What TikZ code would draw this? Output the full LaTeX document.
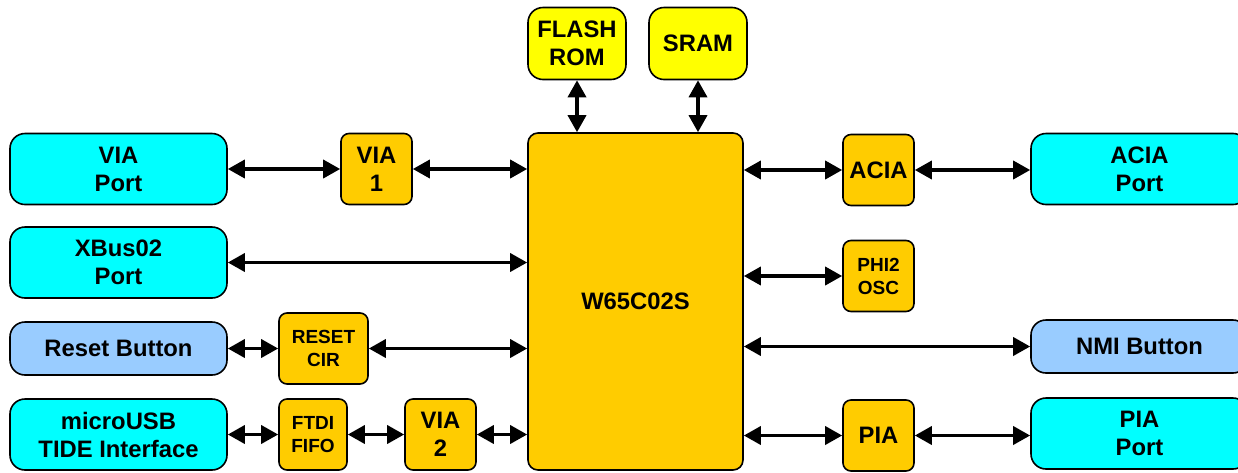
\documentclass[tikz,border=0pt]{standalone}
\usepackage{fontspec}
\setmainfont{Liberation Sans}
\usetikzlibrary{arrows.meta}
\definecolor{portcyan}{HTML}{00FFFF}
\definecolor{btnblue}{HTML}{99CCFF}
\definecolor{chiporange}{HTML}{FFCC00}
\definecolor{memyellow}{HTML}{FFFF00}
\begin{document}
\begin{tikzpicture}[
    x=1pt, y=-1pt,
    every node/.style={draw, line width=1.6pt, align=center, inner sep=0pt, font=\fontsize{23.8}{28}\selectfont\bfseries},
    port/.style={fill=portcyan, rounded corners=15pt, minimum width=217pt, minimum height=71pt},
    button/.style={fill=btnblue, rounded corners=15pt, minimum width=217pt, minimum height=53pt},
    chip/.style={fill=chiporange, rounded corners=8pt, minimum width=71pt, minimum height=71pt},
    small/.style={font=\fontsize{19}{23}\selectfont\bfseries},
    memory/.style={fill=memyellow, rounded corners=15pt, minimum width=98pt, minimum height=72pt},
    link/.style={line width=3.5pt, {Triangle[length=17pt,width=18pt]}-{Triangle[length=17pt,width=18pt]}}
    ]
    \useasboundingbox (0,0) rectangle (1238,472);
    % processor
    \node[chip, rounded corners=10pt, minimum width=215pt, minimum height=337pt] (cpu) at (635.5,301.5) {W65C02S};
    \node[memory] (flash) at (577,43.5) {FLASH\\ROM};
    \node[memory] (sram) at (698,43.5) {SRAM};
    % left side
    \node[port] (viaport) at (118.5,169) {VIA\\Port};
    \node[port] (xbusport) at (118.5,262.5) {XBus02\\Port};
    \node[button] (resetbtn) at (118.5,348.5) {Reset Button};
    \node[port] (usbport) at (118.5,434.5) {microUSB\\TIDE Interface};
    \node[chip] (via1) at (376.5,169) {VIA\\1};
    \node[chip, small, minimum width=89pt] (resetcir) at (323.5,348.5) {RESET\\CIR};
    \node[chip, small, minimum width=68pt] (ftdi) at (313,434.5) {FTDI\\FIFO};
    \node[chip] (via2) at (440.5,434.5) {VIA\\2};
    % right side
    \node[chip] (acia) at (878.5,170) {ACIA};
    \node[chip, small] (phi2) at (878.5,276) {PHI2\\OSC};
    \node[chip] (pia) at (878.5,435.5) {PIA};
    \node[port] (aciaport) at (1139.5,169) {ACIA\\Port};
    \node[button] (nmibtn) at (1139.5,346.5) {NMI Button};
    \node[port] (piaport) at (1139.5,433.5) {PIA\\Port};

    \draw[link] (flash.south) -- (flash.south |- cpu.north);
    \draw[link] (sram.south) -- (sram.south |- cpu.north);
    \draw[link] (viaport) -- (via1);
    \draw[link] (via1.east) -- (via1.east -| cpu.west);
    \draw[link] (xbusport.east) -- (xbusport.east -| cpu.west);
    \draw[link] (resetbtn) -- (resetcir);
    \draw[link] (resetcir.east) -- (resetcir.east -| cpu.west);
    \draw[link] (usbport) -- (ftdi);
    \draw[link] (ftdi) -- (via2);
    \draw[link] (via2.east) -- (via2.east -| cpu.west);
    \draw[link] (acia.west -| cpu.east) -- (acia.west);
    \draw[link] (acia) -- (acia -| aciaport.west);
    \draw[link] (phi2.west -| cpu.east) -- (phi2.west);
    \draw[link] (nmibtn.west -| cpu.east) -- (nmibtn.west);
    \draw[link] (pia.west -| cpu.east) -- (pia.west);
    \draw[link] (pia) -- (pia -| piaport.west);
\end{tikzpicture}
\end{document}
